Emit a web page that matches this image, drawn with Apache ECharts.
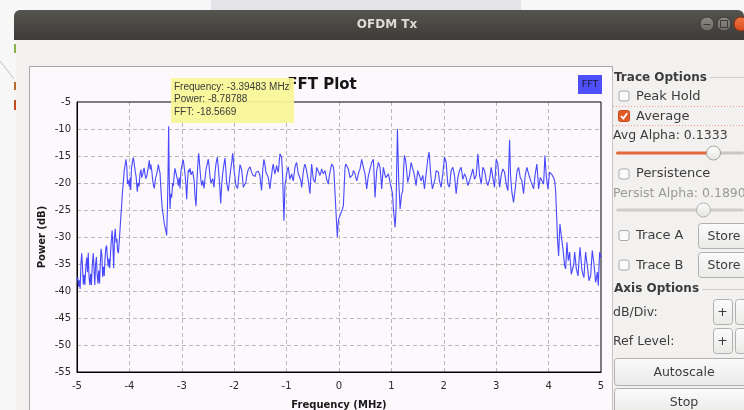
<!DOCTYPE html>
<html><head><meta charset="utf-8">
<script src="https://cdn.jsdelivr.net/npm/echarts/dist/echarts.min.js"></script>
<style>html,body{margin:0;padding:0;background:#f2f1f0;overflow:hidden}#chart{width:744px;height:410px}</style>
</head><body><div id="chart"></div>
<script>
// ---- data: [frequency MHz, power dB] ----
const leftSkirt = [
[-5.00,-38.0],[-4.985,-37.5],[-4.97,-39.2],[-4.955,-38.0],[-4.94,-39.6],[-4.925,-35.0],[-4.91,-33.0],[-4.895,-35.5],
[-4.88,-38.8],[-4.865,-37.0],[-4.85,-38.9],[-4.835,-36.0],[-4.815,-33.8],[-4.80,-36.5],[-4.785,-32.9],[-4.77,-37.5],
[-4.755,-38.9],[-4.74,-36.8],[-4.725,-38.9],[-4.71,-35.5],[-4.69,-33.0],[-4.675,-36.0],[-4.66,-38.9],[-4.645,-35.0],
[-4.63,-33.7],[-4.615,-37.0],[-4.60,-38.6],[-4.585,-36.2],[-4.57,-38.6],[-4.555,-34.8],[-4.54,-32.2],[-4.525,-33.5],
[-4.51,-37.4],[-4.495,-35.5],[-4.48,-37.2],[-4.465,-34.0],[-4.45,-32.0],[-4.435,-31.6],[-4.42,-33.8],[-4.405,-35.5],
[-4.39,-34.0],[-4.375,-35.8],[-4.36,-33.0],[-4.345,-30.6],[-4.33,-28.8],[-4.315,-31.5],[-4.30,-35.8],[-4.285,-30.0],
[-4.27,-28.5],[-4.255,-31.0],[-4.24,-30.3],[-4.225,-32.5],[-4.21,-33.0],[-4.195,-31.0],[-4.18,-28.8],[-4.165,-26.5],
[-4.15,-24.5],[-4.135,-22.0],[-4.12,-20.4],[-4.10,-17.8],[-4.085,-17.5],[-4.065,-15.6]
];
const passband = [
[-4.05,-17.0],[-4.035,-20.2],[-4.02,-19.5],[-4.00,-20.7],[-3.985,-19.0],[-3.975,-21.3],[-3.96,-17.2],[-3.94,-16.0],
[-3.925,-15.3],[-3.91,-16.2],[-3.895,-17.4],[-3.87,-19.0],[-3.85,-21.6],[-3.835,-20.0],[-3.815,-20.6],[-3.80,-18.5],
[-3.78,-17.5],[-3.765,-19.0],[-3.745,-18.3],[-3.72,-17.2],[-3.70,-18.5],[-3.685,-19.2],[-3.66,-18.4],[-3.64,-17.0],
[-3.62,-15.8],[-3.605,-17.5],[-3.59,-16.6],[-3.57,-18.0],[-3.555,-19.5],[-3.54,-20.5],[-3.525,-21.0],[-3.50,-19.0],
[-3.48,-18.4],[-3.46,-17.4],[-3.448,-16.6],[-3.43,-17.5],[-3.415,-18.2],[-3.40,-21.0],[-3.385,-23.2],[-3.37,-25.0],
[-3.35,-26.3],[-3.335,-27.5],[-3.32,-28.2],[-3.30,-29.0],[-3.289,-29.7],[-3.275,-25.0],[-3.262,-18.0],[-3.251,-9.5],
[-3.24,-19.0],[-3.225,-24.8],[-3.21,-22.0],[-3.193,-22.7],[-3.175,-20.0],[-3.162,-20.6],[-3.145,-18.5],[-3.13,-17.3],
[-3.115,-18.0],[-3.098,-18.3],[-3.08,-19.5],[-3.066,-20.5],[-3.05,-19.0],[-3.034,-21.0],[-3.018,-18.0],[-3.003,-17.0],
[-2.985,-16.2],[-2.971,-15.7],[-2.955,-17.0],[-2.939,-18.3],[-2.92,-20.5],[-2.907,-23.0],[-2.89,-19.5],[-2.875,-17.6],
[-2.86,-18.0],[-2.843,-17.3],[-2.825,-18.5],[-2.812,-18.5],[-2.795,-17.8],[-2.78,-17.6],[-2.765,-19.5],[-2.748,-22.4],
[-2.729,-24.3],[-2.712,-20.0],[-2.697,-17.0],[-2.678,-14.5],[-2.665,-16.0],[-2.653,-17.5],[-2.635,-19.5],[-2.621,-20.5],
[-2.60,-19.5],[-2.576,-21.0],[-2.555,-19.0],[-2.538,-17.5],[-2.515,-16.5],[-2.494,-15.6],[-2.478,-17.0],[-2.462,-18.8],
[-2.445,-20.0],[-2.43,-20.0],[-2.41,-19.2],[-2.385,-20.8],[-2.365,-18.0],[-2.347,-16.4],[-2.322,-15.2],[-2.30,-17.5],
[-2.284,-19.5],[-2.27,-21.5],[-2.258,-23.8],[-2.24,-20.5],[-2.22,-18.3],[-2.20,-16.8],[-2.176,-15.4],[-2.16,-17.5],
[-2.144,-20.0],[-2.128,-20.8],[-2.112,-21.5],[-2.09,-19.5],[-2.067,-17.5],[-2.045,-16.0],[-2.029,-14.5],[-2.015,-16.0],
[-2.004,-17.5],[-1.985,-19.0],[-1.966,-20.5],[-1.95,-20.2],[-1.934,-21.0],[-1.91,-18.5],[-1.889,-16.6],[-1.87,-16.9],
[-1.858,-17.5],[-1.84,-19.2],[-1.826,-20.8],[-1.81,-20.5],[-1.794,-21.0],[-1.775,-19.8],[-1.762,-18.8],[-1.745,-18.0],
[-1.73,-17.5],[-1.712,-17.2],[-1.698,-17.0],[-1.675,-17.8],[-1.648,-18.5],[-1.625,-18.2],[-1.603,-18.8],[-1.58,-18.0],
[-1.559,-18.2],[-1.54,-17.8],[-1.52,-18.0],[-1.51,-18.6],[-1.478,-21.4],[-1.455,-17.5],[-1.433,-15.6],[-1.415,-16.5],
[-1.395,-18.0],[-1.37,-18.5],[-1.35,-19.0],[-1.318,-21.1],[-1.30,-19.5],[-1.287,-18.6],[-1.27,-17.2],[-1.255,-16.5],
[-1.24,-17.5],[-1.223,-18.3],[-1.205,-17.5],[-1.191,-16.8],[-1.175,-17.5],[-1.159,-18.0],[-1.14,-16.0],[-1.127,-14.6],
[-1.11,-14.9],[-1.096,-15.2],[-1.085,-17.0],[-1.076,-18.6],[-1.063,-23.0],[-1.051,-27.0],[-1.04,-23.5],[-1.032,-20.5],
[-1.015,-19.5],[-1.000,-18.3],[-0.985,-17.5],[-0.968,-17.0],[-0.95,-18.5],[-0.936,-19.3],[-0.92,-18.8],[-0.904,-18.3],
[-0.89,-19.0],[-0.873,-19.6],[-0.855,-18.2],[-0.841,-17.1],[-0.825,-16.6],[-0.809,-16.2],[-0.79,-17.5],[-0.777,-18.3],
[-0.76,-18.0],[-0.745,-18.3],[-0.73,-19.5],[-0.713,-20.8],[-0.695,-19.2],[-0.682,-18.0],[-0.665,-17.0],[-0.65,-16.5],
[-0.635,-17.0],[-0.618,-17.7],[-0.60,-18.8],[-0.586,-19.6],[-0.57,-20.8],[-0.554,-22.0],[-0.538,-19.0],[-0.522,-16.5],
[-0.505,-18.0],[-0.49,-19.3],[-0.475,-19.6],[-0.459,-19.9],[-0.44,-18.5],[-0.427,-17.1],[-0.41,-17.5],[-0.395,-17.7],
[-0.38,-18.2],[-0.363,-18.6],[-0.345,-18.0],[-0.331,-17.4],[-0.315,-17.9],[-0.299,-18.3],[-0.285,-18.0],[-0.268,-17.7],
[-0.25,-18.5],[-0.236,-19.3],[-0.22,-19.8],[-0.204,-20.2],[-0.19,-19.0],[-0.172,-18.0],[-0.155,-17.2],[-0.14,-16.5],
[-0.121,-16.2],[-0.108,-17.0],[-0.096,-18.0],[-0.083,-20.5],[-0.07,-23.0],[-0.057,-25.5],[-0.045,-27.6],[-0.032,-30.0],
[-0.02,-28.0],[-0.006,-26.7],[0.006,-26.5],[0.019,-26.0],[0.035,-25.6],[0.051,-25.4],[0.067,-24.8],[0.083,-24.2],
[0.10,-20.5],[0.115,-17.1],[0.13,-16.5],[0.146,-16.2],[0.162,-16.8],[0.178,-17.4],[0.195,-18.2],[0.21,-19.0],
[0.226,-19.2],[0.242,-19.3],[0.258,-18.5],[0.274,-17.7],[0.29,-18.0],[0.306,-18.3],[0.32,-19.0],[0.338,-19.6],
[0.355,-19.0],[0.369,-18.3],[0.385,-17.8],[0.401,-17.4],[0.417,-16.5],[0.433,-15.6],[0.45,-16.4],[0.465,-17.1],
[0.48,-17.7],[0.497,-18.3],[0.513,-19.7],[0.529,-21.1],[0.545,-19.8],[0.561,-18.6],[0.578,-18.0],[0.592,-17.4],
[0.61,-16.8],[0.624,-16.2],[0.64,-15.9],[0.656,-15.6],[0.672,-19.0],[0.688,-22.7],[0.705,-20.0],[0.72,-17.7],
[0.737,-16.9],[0.752,-16.2],[0.768,-16.6],[0.783,-17.1],[0.80,-19.0],[0.815,-21.1],[0.83,-19.0],[0.847,-17.1],
[0.862,-17.8],[0.879,-18.6],[0.895,-19.0],[0.911,-19.3],[0.927,-18.8],[0.943,-18.3],[0.96,-19.1],[0.975,-19.9],
[0.99,-19.8],[1.006,-19.6],[1.022,-22.0],[1.038,-24.8],[1.055,-26.5],[1.070,-28.2],[1.08,-26.5],[1.089,-24.8],
[1.10,-18.0],[1.115,-10.0],[1.128,-15.0],[1.140,-19.9],[1.155,-22.5],[1.166,-24.8],[1.18,-23.5],[1.191,-22.3],
[1.205,-21.8],[1.217,-21.4],[1.233,-17.5],[1.248,-14.9],[1.265,-15.5],[1.28,-16.5],[1.296,-18.2],[1.312,-19.9],
[1.328,-19.2],[1.344,-18.6],[1.36,-17.4],[1.376,-16.2],[1.392,-16.8],[1.408,-17.4],[1.425,-18.0],[1.439,-18.6],
[1.455,-19.5],[1.471,-20.5],[1.487,-19.0],[1.503,-17.7],[1.52,-18.2],[1.535,-18.6],[1.55,-19.1],[1.567,-19.6],
[1.583,-19.1],[1.599,-18.6],[1.615,-19.8],[1.631,-21.1],[1.647,-19.7],[1.662,-18.3],[1.678,-17.0],[1.694,-15.6],
[1.708,-14.8],[1.720,-14.3],[1.736,-16.4],[1.752,-18.6],[1.768,-20.0],[1.783,-21.1],[1.80,-21.0],[1.815,-20.8],
[1.835,-19.2],[1.854,-17.7],[1.875,-17.8],[1.898,-18.0],[1.917,-19.6],[1.933,-20.2],[1.949,-20.8],[1.965,-19.5],
[1.981,-18.3],[1.997,-16.8],[2.013,-15.2],[2.03,-15.7],[2.045,-16.2],[2.06,-18.2],[2.076,-20.2],[2.092,-20.5],
[2.108,-20.8],[2.124,-19.2],[2.140,-17.7],[2.156,-17.4],[2.172,-17.1],[2.188,-17.8],[2.204,-18.6],[2.22,-20.3],
[2.236,-22.0],[2.252,-20.5],[2.268,-19.0],[2.284,-18.3],[2.299,-17.7],[2.315,-17.4],[2.331,-17.1],[2.347,-18.2],
[2.363,-19.3],[2.38,-18.8],[2.395,-18.3],[2.41,-18.6],[2.427,-19.0],[2.443,-19.8],[2.459,-20.5],[2.475,-20.0],
[2.490,-19.6],[2.506,-19.1],[2.522,-18.6],[2.538,-18.0],[2.554,-17.4],[2.57,-18.3],[2.586,-19.3],[2.60,-19.0],
[2.618,-18.6],[2.634,-16.6],[2.650,-14.6],[2.666,-16.6],[2.682,-18.6],[2.70,-19.4],[2.713,-20.2],[2.73,-18.7],
[2.745,-17.1],[2.76,-17.4],[2.777,-17.7],[2.795,-18.6],[2.809,-19.6],[2.825,-20.0],[2.841,-20.5],[2.857,-19.9],
[2.873,-19.3],[2.89,-18.2],[2.904,-17.1],[2.92,-18.0],[2.936,-19.0],[2.952,-19.9],[2.968,-20.8],[2.985,-18.2],
[3.000,-15.6],[3.016,-16.0],[3.032,-16.5],[3.048,-18.6],[3.064,-20.8],[3.08,-19.7],[3.096,-18.6],[3.11,-18.0],
[3.127,-17.4],[3.143,-17.7],[3.159,-18.0],[3.175,-19.1],[3.191,-20.2],[3.207,-20.8],[3.223,-21.4],[3.24,-17.0],
[3.255,-12.0],[3.265,-15.5],[3.274,-18.6],[3.287,-20.2],[3.299,-21.7],[3.315,-22.6],[3.331,-23.6],[3.347,-22.3],
[3.363,-21.1],[3.38,-19.5],[3.395,-18.0],[3.41,-17.5],[3.427,-17.1],[3.443,-18.0],[3.459,-19.0],[3.475,-19.3],
[3.490,-19.6],[3.506,-20.8],[3.522,-22.0],[3.538,-20.3],[3.554,-18.6],[3.57,-17.8],[3.586,-17.1],[3.602,-17.7],
[3.618,-18.3],[3.634,-18.8],[3.650,-19.3],[3.666,-19.8],[3.682,-20.2],[3.698,-20.6],[3.713,-21.1],[3.73,-19.7],
[3.745,-18.3],[3.761,-17.4],[3.777,-16.5],[3.793,-18.8],[3.809,-21.1],[3.825,-20.0],[3.841,-19.0],[3.857,-19.3],
[3.873,-19.6],[3.89,-19.9],[3.904,-20.2],[3.918,-17.5],[3.930,-14.9],[3.943,-16.8],[3.955,-18.6],[3.97,-19.8],
[3.987,-21.1],[4.003,-19.5],[4.019,-18.0],[4.035,-18.2],[4.051,-18.3],[4.067,-18.5],[4.083,-18.6],[4.10,-19.1],
[4.115,-19.6],[4.134,-21.4]
];
const rightSkirt = [
[4.153,-26.0],[4.172,-30.7],[4.191,-33.5],[4.205,-30.0],[4.217,-27.6],[4.23,-28.8],[4.242,-29.8],[4.258,-31.0],
[4.274,-32.2],[4.29,-33.8],[4.306,-35.3],[4.325,-35.9],[4.338,-33.5],[4.350,-31.0],[4.363,-32.8],[4.376,-34.4],
[4.39,-33.5],[4.401,-32.8],[4.418,-35.0],[4.433,-36.9],[4.45,-37.0],[4.465,-37.2],[4.48,-35.0],[4.497,-32.8],
[4.513,-34.3],[4.529,-35.9],[4.545,-36.5],[4.561,-37.2],[4.58,-34.5],[4.599,-31.9],[4.618,-34.0],[4.637,-36.2],
[4.656,-36.9],[4.675,-37.5],[4.69,-35.0],[4.707,-32.8],[4.72,-34.0],[4.739,-35.3],[4.755,-36.7],[4.771,-38.1],
[4.787,-37.6],[4.803,-37.2],[4.818,-34.8],[4.834,-32.5],[4.85,-33.8],[4.866,-35.0],[4.882,-36.7],[4.898,-38.4],
[4.914,-37.5],[4.930,-36.5],[4.94,-37.8],[4.949,-39.0],[4.962,-35.5],[4.975,-32.8],[4.988,-33.3],[5.000,-33.8]
];
const tooltipLines = ['Frequency: -3.39483 MHz', 'Power: -8.78788', 'FFT: -18.5669'];
const xRange = [-5, 5], xStep = 1;
const yRange = [-55, -5], yStep = 5;

const spectrum = leftSkirt.concat(passband, rightSkirt);

// ---- window chrome helpers ----
const F = 'DejaVu Sans';
function rect(x,y,w,h,fill,stroke,r,z,lw){return {type:'rect',z:z||0,silent:true,shape:{x:x,y:y,width:w,height:h,r:r||0},style:{fill:fill,stroke:stroke||null,lineWidth:lw||1}};}
function txt(s,x,y,font,fill,align,z){return {type:'text',z:z||5,silent:true,style:{text:s,x:x,y:y,font:font,fill:fill,textAlign:align||'left',textVerticalAlign:'middle'}};}
function ln(x1,y1,x2,y2,stroke,z,dash){return {type:'line',z:z||1,silent:true,shape:{x1:x1,y1:y1,x2:x2,y2:y2},style:{stroke:stroke,lineWidth:1,lineDash:dash||null}};}
function circ(cx,cy,r,fill,stroke,z){return {type:'circle',z:z||2,silent:true,shape:{cx:cx,cy:cy,r:r},style:{fill:fill,stroke:stroke||null,lineWidth:1}};}
function grad(a,b){return {type:'linear',x:0,y:0,x2:0,y2:1,colorStops:[{offset:0,color:a},{offset:1,color:b}]};}
function checkbox(x,y,checked){
  if(checked){return [rect(x,y,11,11,'#e05b28','#c84d1e',2,3),
    {type:'polyline',z:4,silent:true,shape:{points:[[x+2.5,y+5.5],[x+4.8,y+8],[x+8.7,y+2.8]]},style:{stroke:'#fff',lineWidth:1.8,fill:null}}];}
  return [rect(x+0.5,y+0.5,10,10,'#fbfbfb','#a9a9a9',2,3)];
}
function button(x,y,w,h,label){
  const out=[rect(x+0.5,y+0.5,w,h,grad('#fbfbfb','#e9e9e8'),'#b1b0ae',3,2)];
  if(label) out.push(txt(label,x+w/2,y+h/2+1,'12.5px '+F,'#3c3c3c','center',4));
  return out;
}

const panelFont = '12.5px '+F;
let g = [];
// desktop background
g.push(rect(0,0,744,410,'#f7f7f7',null,0,-20));
g.push(rect(211,0,310,10,'#e4e4e8',null,0,-19));
g.push(ln(0,61,14,79,'#c3c3c3',-18));
g.push(rect(14,44,2,9,'#8db04a',null,0,-18));
g.push(rect(14,82,2,8,'#b8682c',null,0,-18));
g.push(rect(14,100,2,10,'#c34d22',null,0,-18));
// window body and title bar
g.push(rect(16,40,728,370,'#f2f1f0',null,0,-17));
g.push(rect(14,10,730,30,grad('#56544f','#3c3b37'),null,[6,6,0,0],-16));
g.push(txt('OFDM Tx',387,25,'bold 12px '+F,'#dfdbd2','center',1));
g.push(circ(707,24,7,grad('#8c8a85','#6d6b66'),'#3a3935'));
g.push(ln(703.5,24.5,710.5,24.5,'#3c3b37',3));
g.push(circ(724,24,7,grad('#8c8a85','#6d6b66'),'#3a3935'));
g.push(rect(720.5,20.5,7,7,null,'#3c3b37',0,3));
g.push(circ(741,24,7,grad('#f07746','#d9481a'),'#8a3010'));
// plot widget frame
g.push(rect(29.5,66.5,583,360,'#fcf8fc','#a8a8a8',0,-15));
// plot title + legend
g.push(txt('FFT Plot',322,85,'bold 15px '+F,'#151515','center',3));
g.push(rect(578,75,24,19,'#4f4ffc',null,0,3));
g.push(txt('FFT',590,85,'9.5px '+F,'#181830','center',4));
// tooltip marker box
g.push(rect(171,78,123,45,'rgba(247,246,150,0.93)',null,0,30));
g.push(txt(tooltipLines[0],174,87,'10px Liberation Sans','#3a3a3a','left',31));
g.push(txt(tooltipLines[1],174,99.5,'10px Liberation Sans','#3a3a3a','left',31));
g.push(txt(tooltipLines[2],174,112,'10px Liberation Sans','#3a3a3a','left',31));
// right control panel
g.push(ln(612.5,72,612.5,410,'#c4c4c4',1));
g.push(txt('Trace Options',614,77.5,'bold 12px '+F,'#3c3c3c','left',3));
g.push(ln(710,77.5,744,77.5,'#cfcfcf',1));
g = g.concat(checkbox(618.5,90.5,false));
g.push(txt('Peak Hold',636,96.5,'13px '+F,'#3c3c3c','left',3));
g.push(ln(613,106.5,744,106.5,'#eea07e',1,[1,2]));
g.push(ln(613,125.5,744,125.5,'#eea07e',1,[1,2]));
g = g.concat(checkbox(618.5,110.5,true));
g.push(txt('Average',636,116.5,'13px '+F,'#3c3c3c','left',3));
g.push(txt('Avg Alpha: 0.1333',613,135.5,panelFont,'#3c3c3c','left',3));
g.push(rect(616,151.5,97,3,'#e2683a',null,1.5,2));
g.push(rect(713,151.5,31,3,'#c9c8c6',null,1.5,2));
g.push(circ(713.5,153,7,grad('#ffffff','#e4e4e2'),'#a3a19d',4));
g = g.concat(checkbox(618.5,168.5,false));
g.push(txt('Persistence',636,174,'13px '+F,'#3c3c3c','left',3));
g.push(txt('Persist Alpha: 0.1890',613,193.5,panelFont,'#9a9a98','left',3));
g.push(rect(616,208.5,128,3,'#cfcecc',null,1.5,2));
g.push(circ(703.5,210,7,grad('#fbfbfb','#e4e4e2'),'#b3b1ad',4));
g = g.concat(checkbox(618.5,230,false));
g.push(txt('Trace A',636,236,'13px '+F,'#3c3c3c','left',3));
g = g.concat(button(698,223,52,25,'Store'));
g = g.concat(checkbox(618.5,259.5,false));
g.push(txt('Trace B',636,265.5,'13px '+F,'#3c3c3c','left',3));
g = g.concat(button(698,252,52,25,'Store'));
g.push(txt('Axis Options',614,289,'bold 12px '+F,'#3c3c3c','left',3));
g.push(ln(702,289.5,744,289.5,'#cfcfcf',1));
g.push(txt('dB/Div:',613,312.5,panelFont,'#3c3c3c','left',3));
g = g.concat(button(713,299,19,25,'+'));
g = g.concat(button(735,299,19,25,null));
g.push(txt('Ref Level:',613,341.5,panelFont,'#3c3c3c','left',3));
g = g.concat(button(713,328,19,25,'+'));
g = g.concat(button(735,328,19,25,null));
g = g.concat(button(614,358,140,27,'Autoscale'));
g = g.concat(button(614,388,140,27,'Stop'));

const axisText = {color:'#2a2a2a', fontSize:10, fontFamily:F};
const option = {
  animation:false,
  backgroundColor:'#f2f1f0',
  grid:{left:77,right:143,top:102,bottom:38,outerBoundsMode:'none',containLabel:false,
    show:true,borderColor:'#000',borderWidth:1,backgroundColor:'transparent',z:2},
  xAxis:{type:'value',min:xRange[0],max:xRange[1],interval:xStep,
    name:'Frequency (MHz)',nameLocation:'middle',nameGap:28,
    nameTextStyle:{fontFamily:F,fontWeight:'bold',fontSize:10,color:'#1a1a1a'},
    axisLine:{show:true,onZero:false,lineStyle:{color:'#000',width:1}},axisTick:{show:false},
    axisLabel:Object.assign({margin:9},axisText),
    splitLine:{show:true,showMinLine:false,showMaxLine:false,lineStyle:{color:'#b9b9b9',type:[4,3],width:1}}},
  yAxis:{type:'value',min:yRange[0],max:yRange[1],interval:yStep,
    name:'Power (dB)',nameLocation:'middle',nameGap:30,nameMoveOverlap:false,
    nameTextStyle:{fontFamily:F,fontWeight:'bold',fontSize:10,color:'#1a1a1a'},
    axisLine:{show:true,onZero:false,lineStyle:{color:'#000',width:1}},axisTick:{show:false},
    axisLabel:Object.assign({margin:6},axisText),
    splitLine:{show:true,showMinLine:false,showMaxLine:false,lineStyle:{color:'#b9b9b9',type:[4,3],width:1}}},
  series:[{type:'line',data:spectrum,showSymbol:false,symbol:'none',silent:true,z:5,
    lineStyle:{color:'#4848ff',width:1.1},itemStyle:{color:'#4848ff'}}],
  graphic:{elements:g}
};
const chart = echarts.init(document.getElementById('chart'),null,{renderer:'canvas'});
chart.setOption(option);
</script>
</body></html>
